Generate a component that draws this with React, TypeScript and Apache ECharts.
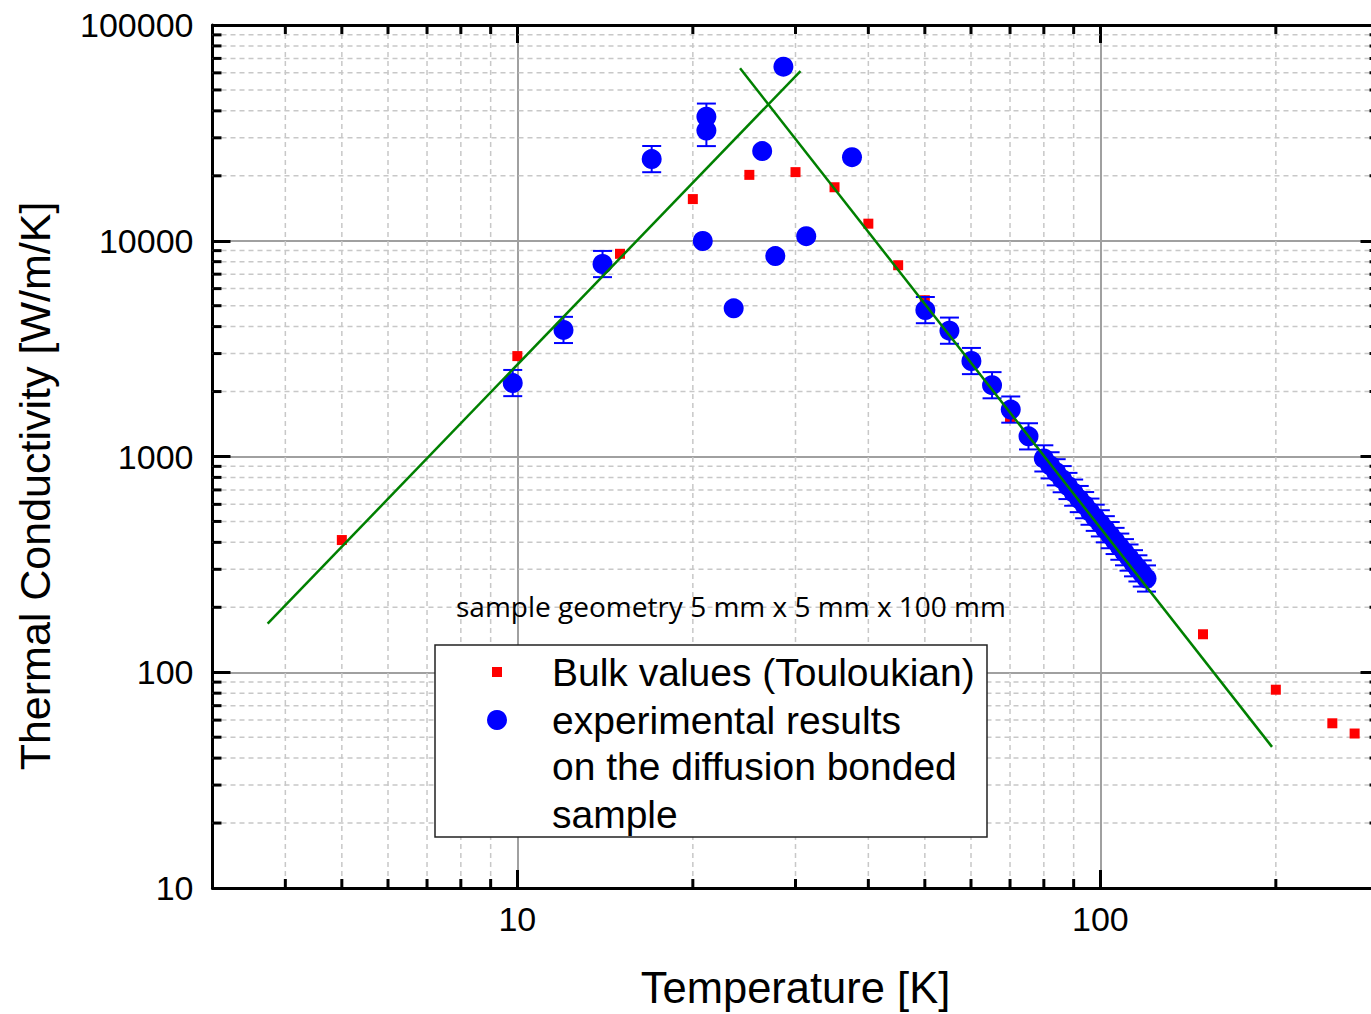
import React, { useEffect, useRef } from "react";
import * as echarts from "echarts";

// ---- data ----
const X_MIN = 3;
const X_MAX = 300;
const Y_MIN = 10;
const Y_MAX = 100000;

const X_MINOR = [4, 5, 6, 7, 8, 9, 20, 30, 40, 50, 60, 70, 80, 90, 200];
const Y_MINOR = [
  20, 30, 40, 50, 60, 70, 80, 90,
  200, 300, 400, 500, 600, 700, 800, 900,
  2000, 3000, 4000, 5000, 6000, 7000, 8000, 9000,
  20000, 30000, 40000, 50000, 60000, 70000, 80000, 90000,
];

// Bulk values (Touloukian)
const T_BULK = [5, 10, 15, 20, 25, 30, 35, 40, 45, 50, 70, 150, 200, 250, 273];
const K_BULK = [410, 2920, 8700, 15600, 20200, 20800, 17700, 12000, 7700, 5300, 1510, 150, 83, 58, 52];

// experimental results on the diffusion bonded sample
const T_EXP = [
  9.82, 12, 14, 17, 21.1, 21.1, 20.8, 23.5, 26.3, 27.7, 28.6, 31.3, 37.5,
  50.1, 55.1, 60.1, 65.2, 70.2, 75.3,
  80, 82, 84, 86, 88, 90, 92, 94, 96, 98, 100, 102, 104, 106, 108, 110, 112, 114, 116, 118, 120,
];
const K_EXP = [
  2190, 3860, 7800, 23900, 37600, 32400, 9970, 4860, 26050, 8490, 64100, 10500, 24400,
  4770, 3830, 2770, 2140, 1650, 1240,
  980, 910, 845, 785, 730, 680, 635, 595, 555, 520, 490, 460, 432, 406, 382, 360, 340, 320, 303, 287, 272,
];
// relative error (0 = no visible bar)
const ERR_EXP = [
  0.15, 0.15, 0.15, 0.15, 0.15, 0.18, 0, 0, 0, 0, 0, 0, 0,
  0.15, 0.15, 0.15, 0.15, 0.15, 0.15,
  0.15, 0.15, 0.15, 0.15, 0.15, 0.15, 0.15, 0.15, 0.15, 0.15, 0.15, 0.15, 0.15, 0.15, 0.15, 0.15, 0.15, 0.15, 0.15, 0.15, 0.15,
];

// fitted power-law lines (end points)
const FIT_LOW_T = [3.73, 30.6];
const FIT_LOW_K = [168, 61200];
const FIT_HIGH_T = [24.1, 197];
const FIT_HIGH_K = [63000, 45.1];

const FONT = "'Liberation Sans', Arial, sans-serif";

function App() {
  const ref = useRef<HTMLDivElement>(null);

  useEffect(() => {
    if (!ref.current) return;
    const chart = echarts.init(ref.current, null, { renderer: "svg" });

    const powLabel = (v: number) => {
      const l = Math.log10(v);
      return Math.abs(l - Math.round(l)) < 1e-6 ? String(Math.round(v)) : "";
    };

    const baseAxis = {
      type: "log",
      logBase: 10,
      axisLine: { show: true, onZero: false, lineStyle: { color: "#000", width: 3 } },
      axisTick: { show: true, inside: true, length: 18, lineStyle: { color: "#000", width: 3 } },
      minorTick: { show: false },
      minorSplitLine: { show: false },
    };

    const xMinorData = X_MINOR.map((v) => [v, Y_MIN]);
    const yMinorData = Y_MINOR.map((v) => [X_MIN, v]);
    const errData = T_EXP.map((t, i) => [t, K_EXP[i] / (1 + ERR_EXP[i]), K_EXP[i] * (1 + ERR_EXP[i]), ERR_EXP[i]]).filter(
      (d) => d[3] > 0
    );

    const option = {
      animation: false,
      backgroundColor: "#fff",
      grid: {
        left: 212.5,
        top: 25,
        width: 1166,
        height: 863,
        containLabel: false,
        outerBoundsMode: "none",
      },
      xAxis: [
        {
          ...baseAxis,
          min: X_MIN,
          max: X_MAX,
          position: "bottom",
          axisLabel: { show: true, formatter: powLabel, fontSize: 34, color: "#000", fontFamily: FONT, margin: 14 },
          splitLine: { show: true, lineStyle: { color: "#a0a0a0", width: 2 } },
        },
        {
          ...baseAxis,
          min: X_MIN,
          max: X_MAX,
          position: "top",
          axisLabel: { show: false },
          splitLine: { show: false },
        },
      ],
      yAxis: [
        {
          ...baseAxis,
          min: Y_MIN,
          max: Y_MAX,
          position: "left",
          axisLabel: { show: true, formatter: powLabel, fontSize: 34, color: "#000", fontFamily: FONT, margin: 19 },
          splitLine: { show: true, lineStyle: { color: "#a0a0a0", width: 2 } },
        },
        {
          ...baseAxis,
          min: Y_MIN,
          max: Y_MAX,
          position: "right",
          axisLabel: { show: false },
          splitLine: { show: false },
        },
      ],
      series: [
        {
          type: "custom",
          name: "xminor",
          z: 1,
          silent: true,
          data: xMinorData,
          renderItem: (params: any, api: any) => {
            const cs = params.coordSys;
            const p = api.coord([api.value(0), api.value(1)]);
            const x = p[0];
            return {
              type: "group",
              children: [
                { type: "line", shape: { x1: x, y1: cs.y, x2: x, y2: cs.y + cs.height }, style: { stroke: "#c8c8c8", lineWidth: 1.5, lineDash: [5, 4] } },
                { type: "line", shape: { x1: x, y1: cs.y + cs.height, x2: x, y2: cs.y + cs.height - 9 }, style: { stroke: "#000", lineWidth: 3 } },
                { type: "line", shape: { x1: x, y1: cs.y, x2: x, y2: cs.y + 9 }, style: { stroke: "#000", lineWidth: 3 } },
              ],
            };
          },
        },
        {
          type: "custom",
          name: "yminor",
          z: 1,
          silent: true,
          data: yMinorData,
          renderItem: (params: any, api: any) => {
            const cs = params.coordSys;
            const p = api.coord([api.value(0), api.value(1)]);
            const y = p[1];
            return {
              type: "group",
              children: [
                { type: "line", shape: { x1: cs.x, y1: y, x2: cs.x + cs.width, y2: y }, style: { stroke: "#c8c8c8", lineWidth: 1.5, lineDash: [5, 4] } },
                { type: "line", shape: { x1: cs.x, y1: y, x2: cs.x + 9, y2: y }, style: { stroke: "#000", lineWidth: 3 } },
                { type: "line", shape: { x1: cs.x + cs.width, y1: y, x2: cs.x + cs.width - 9, y2: y }, style: { stroke: "#000", lineWidth: 3 } },
              ],
            };
          },
        },
        {
          type: "scatter",
          name: "Bulk values (Touloukian)",
          z: 3,
          symbol: "rect",
          symbolSize: 10,
          itemStyle: { color: "#ff0000", opacity: 1 },
          data: T_BULK.map((t, i) => [t, K_BULK[i]]),
        },
        {
          type: "custom",
          name: "errors",
          z: 4,
          data: errData,
          renderItem: (params: any, api: any) => {
            const top = api.coord([api.value(0), api.value(2)]);
            const bot = api.coord([api.value(0), api.value(1)]);
            const x = top[0];
            const st = { stroke: "#0000ff", lineWidth: 2 };
            return {
              type: "group",
              children: [
                { type: "line", shape: { x1: x, y1: top[1], x2: x, y2: bot[1] }, style: st },
                { type: "line", shape: { x1: x - 9.5, y1: top[1], x2: x + 9.5, y2: top[1] }, style: st },
                { type: "line", shape: { x1: x - 9.5, y1: bot[1], x2: x + 9.5, y2: bot[1] }, style: st },
              ],
            };
          },
        },
        {
          type: "scatter",
          name: "experimental results on the diffusion bonded sample",
          z: 5,
          symbol: "circle",
          symbolSize: 20,
          itemStyle: { color: "#0000ff", opacity: 1 },
          data: T_EXP.map((t, i) => [t, K_EXP[i]]),
        },
        {
          type: "line",
          name: "fit low",
          z: 6,
          showSymbol: false,
          symbol: "none",
          lineStyle: { color: "#008000", width: 2.5 },
          data: FIT_LOW_T.map((t, i) => [t, FIT_LOW_K[i]]),
        },
        {
          type: "line",
          name: "fit high",
          z: 6,
          showSymbol: false,
          symbol: "none",
          lineStyle: { color: "#008000", width: 2.5 },
          data: FIT_HIGH_T.map((t, i) => [t, FIT_HIGH_K[i]]),
        },
      ],
      graphic: [
        {
          type: "text",
          x: 456,
          y: 606,
          z: 100,
          style: { text: "sample geometry 5 mm x 5 mm x 100 mm", fontFamily: "'Open Sans', sans-serif", fontSize: 28, fill: "#000", align: "left", verticalAlign: "middle" },
        },
        {
          type: "rect",
          z: 100,
          shape: { x: 435, y: 645, width: 552, height: 192 },
          style: { fill: "#fff", stroke: "#222", lineWidth: 1.5 },
        },
        { type: "rect", z: 101, shape: { x: 492, y: 667, width: 10, height: 10 }, style: { fill: "#ff0000" } },
        { type: "circle", z: 101, shape: { cx: 497, cy: 720, r: 10 }, style: { fill: "#0000ff" } },
        {
          type: "text", z: 101, x: 552, y: 672,
          style: { text: "Bulk values (Touloukian)", fontFamily: FONT, fontSize: 39, fill: "#000", verticalAlign: "middle" },
        },
        {
          type: "text", z: 101, x: 552, y: 720,
          style: { text: "experimental results", fontFamily: FONT, fontSize: 39, fill: "#000", verticalAlign: "middle" },
        },
        {
          type: "text", z: 101, x: 552, y: 766,
          style: { text: "on the diffusion bonded", fontFamily: FONT, fontSize: 39, fill: "#000", verticalAlign: "middle" },
        },
        {
          type: "text", z: 101, x: 552, y: 814,
          style: { text: "sample", fontFamily: FONT, fontSize: 39, fill: "#000", verticalAlign: "middle" },
        },
        {
          type: "text", z: 100, x: 795.5, y: 988,
          style: { text: "Temperature [K]", fontFamily: FONT, fontSize: 43.5, fill: "#000", align: "center", verticalAlign: "middle" },
        },
        {
          type: "text", z: 100, x: 35, y: 486, rotation: Math.PI / 2,
          style: { text: "Thermal Conductivity [W/m/K]", fontFamily: FONT, fontSize: 43, fill: "#000", align: "center", verticalAlign: "middle" },
        },
      ],
    };

    chart.setOption(option as any);
    return () => chart.dispose();
  }, []);

  return (
    <div
      ref={ref}
      style={{ position: "absolute", left: 0, top: 0, width: 1371, height: 1014, background: "#fff" }}
    />
  );
}

export default App;
